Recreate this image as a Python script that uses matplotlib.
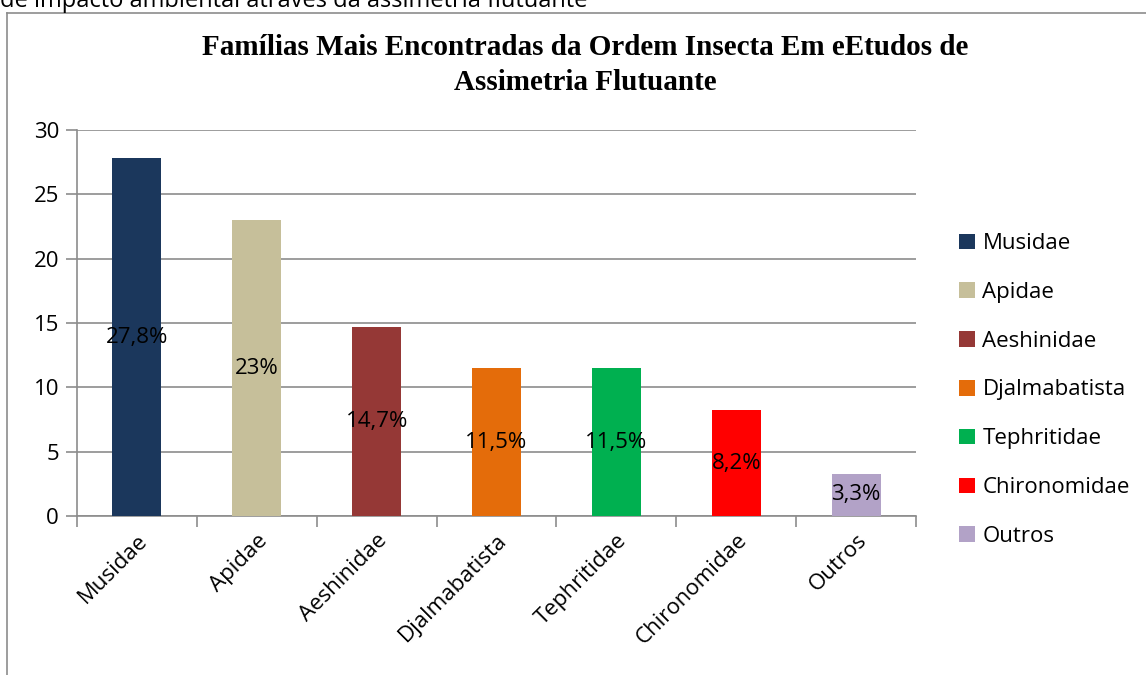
# Famílias mais encontradas da ordem Insecta - bar chart
import numpy as np
import matplotlib.pyplot as plt
from matplotlib.lines import Line2D

# dados
familias = ['Musidae', 'Apidae', 'Aeshinidae', 'Djalmabatista',
            'Tephritidae', 'Chironomidae', 'Outros']
valores = [27.8, 23, 14.7, 11.5, 11.5, 8.2, 3.3]
rotulos = ['27,8%', '23%', '14,7%', '11,5%', '11,5%', '8,2%', '3,3%']
cores = ['#1b375c', '#c6bf9a', '#953836', '#e46c0a', '#00b050', '#ff0000', '#b2a2c7']

plt.rcParams['font.family'] = ['Open Sans', 'DejaVu Sans']
fs = 16

fig = plt.figure(figsize=(11.46, 6.75), dpi=100)
W, H = 1146, 675

# frame of the embedded chart + cut off caption above it
fig.add_artist(Line2D([7 / W, 7 / W], [0, 1 - 13 / H], color='#8c8c8c', lw=1.2))
fig.add_artist(Line2D([7 / W, 1], [1 - 13 / H, 1 - 13 / H], color='#8c8c8c', lw=1.2))
fig.text(0, 1 - 7 / H, 'de impacto ambiental através da assimetria flutuante',
         fontsize=17, va='baseline', ha='left')

ax = fig.add_axes([77 / W, 1 - 516 / H, (916 - 77) / W, (516 - 130) / H])

x = np.arange(len(familias))
for i in range(len(familias)):
    ax.bar(x[i], valores[i], width=0.41, color=cores[i], label=familias[i], zorder=3)
    ax.text(x[i], valores[i] / 2, rotulos[i], ha='center', va='center',
            fontsize=fs, zorder=4)

ax.set_xlim(-0.5, len(familias) - 0.5)
ax.set_ylim(0, 30)
ax.set_yticks([0, 5, 10, 15, 20, 25, 30])
ax.grid(axis='y', color='#8c8c8c', lw=1.2, zorder=0)

# x ticks at category boundaries, labels at centres
ax.set_xticks(np.arange(-0.5, len(familias), 1.0), minor=False)
ax.set_xticklabels([])
ax.set_xticks(x, minor=True)
ax.set_xticklabels(familias, minor=True, rotation=45, ha='right',
                   rotation_mode='anchor', fontsize=fs)
ax.tick_params(axis='x', which='minor', length=0, pad=10)
ax.tick_params(axis='x', which='major', length=8, color='#8c8c8c', width=1.2)
ax.tick_params(axis='y', length=8, color='#8c8c8c', width=1.2, labelsize=fs, pad=5)

for s in ['top', 'right']:
    ax.spines[s].set_visible(False)
for s in ['left', 'bottom']:
    ax.spines[s].set_color('#8c8c8c')
    ax.spines[s].set_linewidth(1.2)

fig.suptitle('Famílias Mais Encontradas da Ordem Insecta Em eEtudos de\nAssimetria Flutuante',
             x=585 / W, y=1 - 34 / H, fontsize=21, fontweight='bold',
             family='Liberation Serif', linespacing=1.4)

ax.legend(loc='center left', bbox_to_anchor=(948 / W, 1 - 390 / H),
          bbox_transform=fig.transFigure, frameon=False, fontsize=fs,
          handlelength=0.7, handleheight=0.7, handletextpad=0.35,
          labelspacing=1.25, borderpad=0)

plt.savefig('out.png', dpi=100)
